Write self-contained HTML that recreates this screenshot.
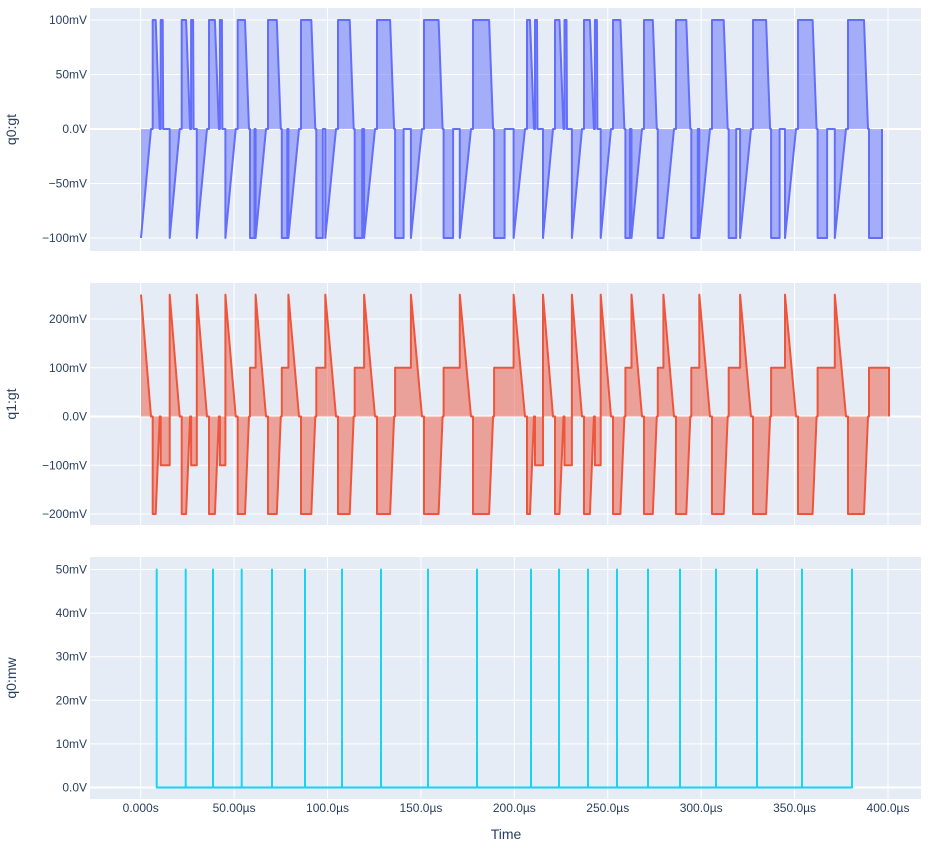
<!DOCTYPE html>
<html><head><meta charset="utf-8"><style>
body{margin:0;background:#fff;}
svg text{font-family:"Liberation Sans",sans-serif;fill:#2a3f5f;}
</style></head><body>
<svg id="s" width="933" height="847" xmlns="http://www.w3.org/2000/svg"></svg>
<script>
const S=document.getElementById('s');
let h='';
const X0=90,X1=921;
const xs=t=>140.7+t*(888-140.7)/400;
const P=[{t:8,b:251,y:v=>129-v*1.09,ticks:[[100,'100mV'],[50,'50mV'],[0,'0.0V'],[-50,'−50mV'],[-100,'−100mV']],title:'q0:gt'},
{t:283,b:525,y:v=>416.5-v*0.4875,ticks:[[200,'200mV'],[100,'100mV'],[0,'0.0V'],[-100,'−100mV'],[-200,'−200mV']],title:'q1:gt'},
{t:557,b:799,y:v=>787.5-v*4.36,ticks:[[50,'50mV'],[40,'40mV'],[30,'30mV'],[20,'20mV'],[10,'10mV'],[0,'0.0V']],title:'q0:mw'}];
P.forEach((p,i)=>{
h+=`<rect x="${X0}" y="${p.t}" width="${X1-X0}" height="${p.b-p.t}" fill="#E5ECF6"/>`;
for(let k=0;k<=8;k++){const x=xs(k*50);h+=`<line x1="${x}" x2="${x}" y1="${p.t}" y2="${p.b}" stroke="#fff" stroke-width="1"/>`;}
p.ticks.forEach(([v,l])=>{const y=p.y(v);h+=`<line x1="${X0}" x2="${X1}" y1="${y}" y2="${y}" stroke="#fff" stroke-width="${v==0?2:1}"/><text x="${X0-3}" y="${y+4}" font-size="12" text-anchor="end">${l}</text>`;});
const cy=(p.t+p.b)/2;
h+=`<text transform="translate(16,${cy}) rotate(-90)" font-size="14" text-anchor="middle">${p.title}</text>`;
h+=`<clipPath id="c${i}"><rect x="${X0}" y="${p.t}" width="${X1-X0}" height="${p.b-p.t}"/></clipPath>`;
});
['0.000s','50.00µs','100.0µs','150.0µs','200.0µs','250.0µs','300.0µs','350.0µs','400.0µs'].forEach((l,k)=>{h+=`<text x="${xs(k*50)}" y="812" font-size="12" text-anchor="middle">${l}</text>`;});
h+=`<text x="506" y="839" font-size="14" text-anchor="middle">Time</text>`;
const mw=[156.7,185.7,213,241.7,272,305,342,381,428,477,531,559,588,617,648,680,716,757,802,852];
let a=[[141,-100],[151,0]], b=[[141,250],[151,0]];
const rs=mw.map(p=>p-4);
mw.forEach((p,i)=>{
 const k=i%10,w=3+k*1.45,r=rs[i],f=r+w,z=f+4;
 a.push([r,0],[r,100],[f,100],[z,0]);
 b.push([r,0],[r,-200],[f,-200],[z,0]);
 const s=z+1,v=k+1.5;
 if(i==19){a.push([s,0],[s,-100],[882,-100],[882,0]);b.push([s,0],[s,100],[889,100],[889,0]);return;}
 const e=rs[i+1]-2,ramp=10+k*0.15,bb=e-ramp;
 if(k<=2){
   a.push([s,0],[s,100],[s+2,100],[s+2.5,0],[bb,0],[bb,-100],[e,0]);
   b.push([s,0],[s,-100],[bb,-100],[bb,250],[e,0]);
 } else if(s+v<bb-1){
   a.push([s,0],[s,-100],[s+v,-100],[s+v,0],[bb,0],[bb,-100],[e,0]);
   b.push([s,0],[s,100],[bb,100],[bb,250],[e,0]);
 } else {
   a.push([s,0],[s,-100],[bb,-100],[e,0]);
   b.push([s,0],[s,100],[bb,100],[bb,250],[e,0]);
 }
});
function draw(pts,p,col,fill,ci){
 const d=pts.map((q,j)=>(j?'L':'M')+q[0].toFixed(1)+' '+p.y(q[1]).toFixed(1)).join(' ');
 const y0=p.y(0);
 if(fill)h+=`<path clip-path="url(#c${ci})" d="${d} L${pts[pts.length-1][0]} ${y0} L${pts[0][0]} ${y0} Z" fill="${fill}"/>`;
 h+=`<path clip-path="url(#c${ci})" d="${d}" fill="none" stroke="${col}" stroke-width="2" stroke-linejoin="round"/>`;
}
draw(a,P[0],'#636efa','rgba(99,110,250,0.5)',0);
draw(b,P[1],'#EF553B','rgba(239,85,59,0.5)',1);
let c=[[156.7,0]];mw.forEach(p=>c.push([p,0],[p,50],[p,0]));
draw(c,P[2],'#19d3f3',null,2);
S.innerHTML=h;
</script>
</body></html>
